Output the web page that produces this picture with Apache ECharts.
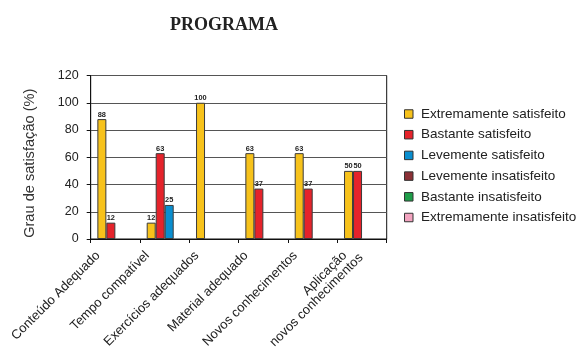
<!DOCTYPE html>
<html>
<head>
<meta charset="utf-8">
<script src="https://cdn.jsdelivr.net/npm/echarts@6/dist/echarts.min.js"></script>
<style>
  html, body { margin: 0; padding: 0; background: #fff; }
  #chart { width: 580px; height: 349px; }
</style>
</head>
<body>
<div id="chart"></div>
<script>
// Survey results: satisfaction level (%) per programme item
const categories = [
  'Conteúdo Adequado',
  'Tempo compatível',
  'Exercícios adequados',
  'Material adequado',
  'Novos conhecimentos',
  'Aplicação\nnovos conhecimentos'
];
const extremamenteSatisfeito   = [88, 12, 100, 63, 63, 50];
const bastanteSatisfeito       = [12, 63, 0, 37, 37, 50];
const levementeSatisfeito      = [0, 25, 0, 0, 0, 0];
const levementeInsatisfeito    = [0, 0, 0, 0, 0, 0];
const bastanteInsatisfeito     = [0, 0, 0, 0, 0, 0];
const extremamenteInsatisfeito = [0, 0, 0, 0, 0, 0];
const yTicks = [0, 20, 40, 60, 80, 100, 120];

const FONT = '"Liberation Sans", Arial, sans-serif';
const noZero = arr => arr.map(v => (v === 0 ? '-' : v));

function barSeries(name, values, color, axisIndex) {
  return {
    name: name,
    type: 'bar',
    xAxisIndex: axisIndex,
    yAxisIndex: 0,
    data: noZero(values),
    barWidth: 9,
    barGap: '0%',
    itemStyle: { color: color, borderColor: '#3a3a3a', borderWidth: 1 },
    label: {
      show: true,
      position: 'top',
      distance: 1,
      fontFamily: FONT,
      fontSize: 7.4,
      fontWeight: 'bold',
      color: '#222'
    }
  };
}

// Slanted category labels: every line except the last one ends a bit earlier
function categoryLabel(value) {
  const lines = value.split('\n');
  return lines
    .map((line, i) => (i < lines.length - 1 || lines.length === 1 ? '{s|' + line + '}' : '{n|' + line + '}'))
    .join('\n');
}

const labelText = { fontFamily: FONT, fontSize: 13, color: '#222', lineHeight: 13 };

const chart = echarts.init(document.getElementById('chart'), null, { renderer: 'canvas' });

chart.setOption({
  animation: false,
  backgroundColor: '#fff',
  title: {
    text: 'PROGRAMA',
    left: 165,
    top: 11,
    textStyle: {
      fontFamily: '"Liberation Serif", "DejaVu Serif", serif',
      fontWeight: 'bold',
      fontSize: 18,
      color: '#222'
    }
  },
  legend: {
    orient: 'vertical',
    left: 404,
    top: 107,
    padding: 0,
    itemWidth: 8.5,
    itemHeight: 8.5,
    itemGap: 6.7,
    icon: 'rect',
    textStyle: {
      fontFamily: FONT, fontSize: 13.5, color: '#222', lineHeight: 13.5,
      padding: [0, 0, 0, 3]
    },
    itemStyle: { borderColor: '#333', borderWidth: 1 }
  },
  grid: {
    left: 90.7,
    right: 193.3,
    top: 75.5,
    bottom: 110,
    show: true,
    borderColor: '#111',
    borderWidth: 1,
    containLabel: false,
    outerBoundsMode: 'none'
  },
  xAxis: [
    {
      type: 'category',
      data: categories,
      axisLine: { lineStyle: { color: '#111', width: 1 } },
      axisTick: { show: true, length: 4, lineStyle: { color: '#111' } },
      axisLabel: Object.assign({
        rotate: 45,
        interval: 0,
        margin: -12,
        align: 'right',
        verticalAlign: 'top',
        padding: [0, 21, 0, 0],
        formatter: categoryLabel,
        rich: {
          s: Object.assign({ padding: [0, 10, 0, 0] }, labelText),
          n: Object.assign({}, labelText)
        }
      }, labelText)
    },
    {
      // helper axis for the series that hold no answers
      type: 'category',
      data: categories,
      show: false,
      gridIndex: 0
    }
  ],
  yAxis: {
    type: 'value',
    min: yTicks[0],
    max: yTicks[yTicks.length - 1],
    interval: 20,
    name: 'Grau de satisfação (%)',
    nameLocation: 'middle',
    nameGap: 53,
    nameRotate: 90,
    nameTextStyle: { fontFamily: FONT, fontSize: 14.6, color: '#333', padding: [0, 12, 0, 0] },
    axisLine: { show: true, lineStyle: { color: '#111', width: 1 } },
    axisTick: { show: true, length: 4, lineStyle: { color: '#111' } },
    axisLabel: { margin: 12, fontFamily: FONT, fontSize: 12.5, color: '#222' },
    splitLine: { show: true, lineStyle: { color: '#555', width: 1 } }
  },
  series: [
    barSeries('Extremamente satisfeito', extremamenteSatisfeito, '#F7C21B', 0),
    barSeries('Bastante satisfeito', bastanteSatisfeito, '#E5232B', 0),
    barSeries('Levemente satisfeito', levementeSatisfeito, '#0A8ECF', 0),
    barSeries('Levemente insatisfeito', levementeInsatisfeito, '#8B3036', 0),
    barSeries('Bastante insatisfeito', bastanteInsatisfeito, '#1F9D49', 1),
    barSeries('Extremamente insatisfeito', extremamenteInsatisfeito, '#F2A3BF', 1)
  ]
});
</script>
</body>
</html>
